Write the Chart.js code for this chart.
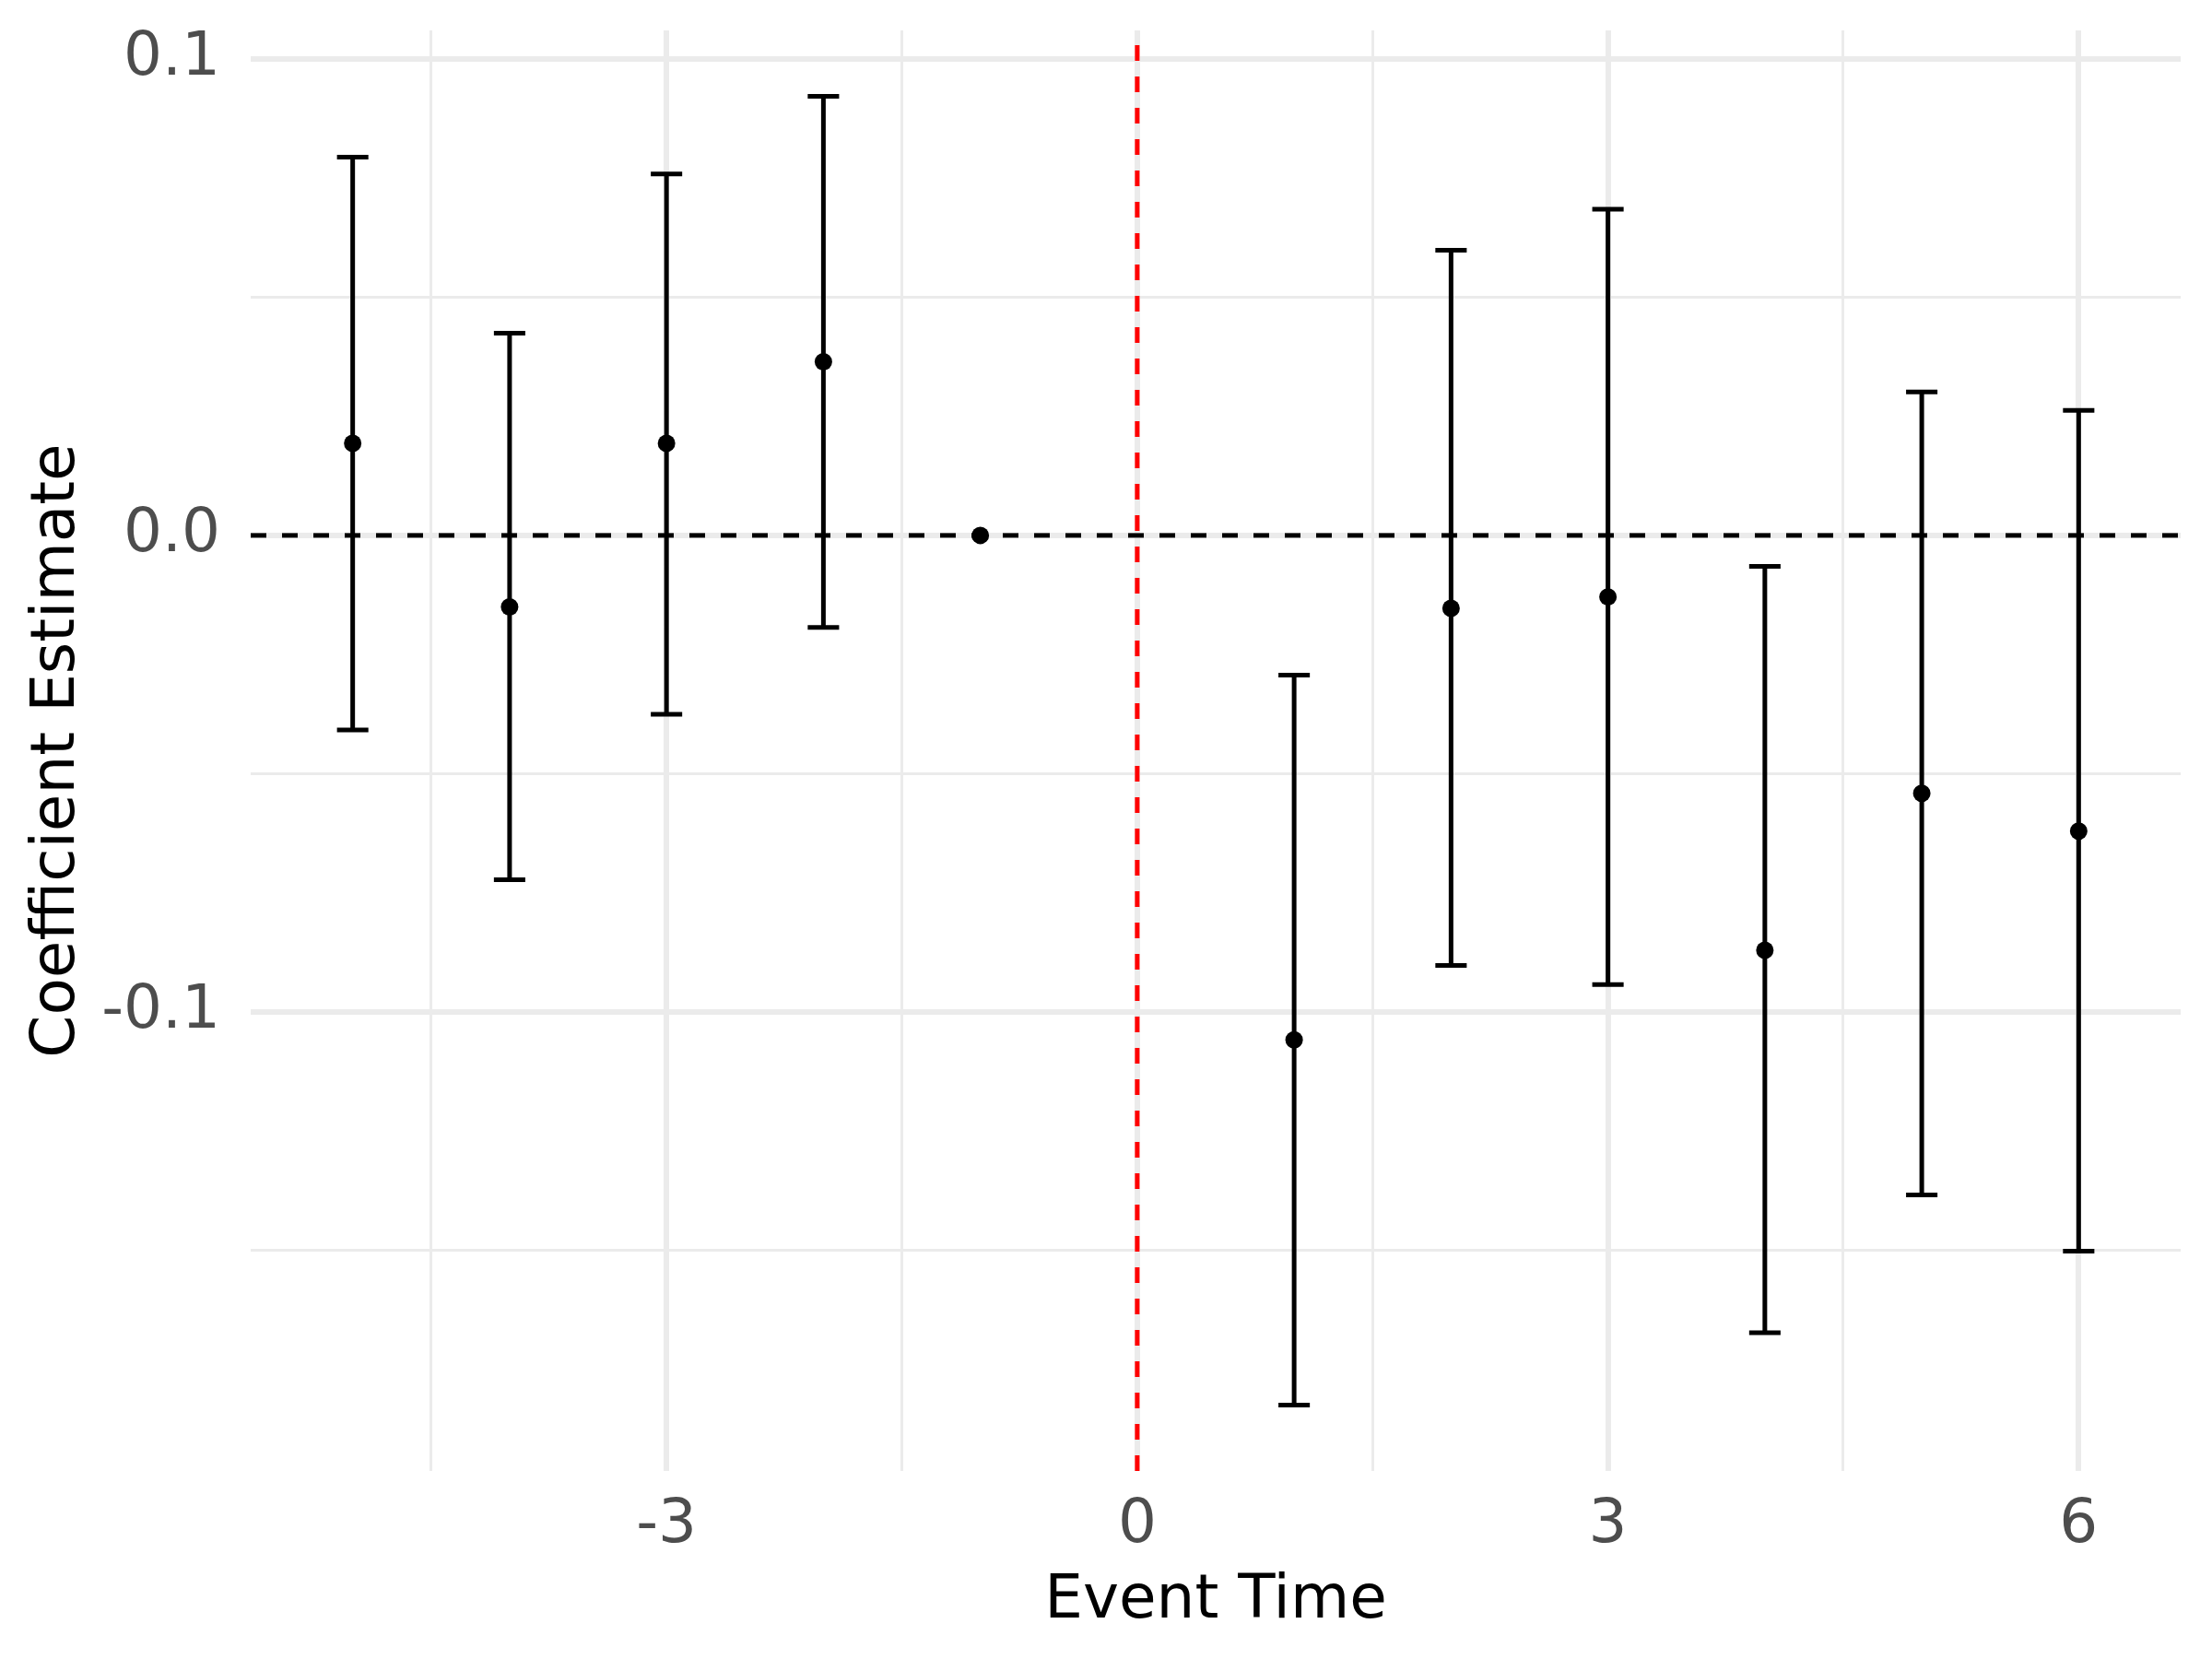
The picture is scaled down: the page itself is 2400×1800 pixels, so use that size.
<!DOCTYPE html>
<html>
<head>
<meta charset="utf-8">
<script src="https://cdn.jsdelivr.net/npm/chart.js@4/dist/chart.umd.min.js"></script>
<style>
  body { margin: 0; background: #fff; }
  #wrap { width: 2400px; height: 1800px; position: relative; }
</style>
</head>
<body>
<div id="wrap"><canvas id="eventChart"></canvas></div>
<script>
// event study coefficients
var eventTime = [-5, -4, -3, -2, -1, 1, 2, 3, 4, 5, 6];
var estimate  = [0.0193, -0.0150, 0.0193, 0.0364, 0, -0.1058, -0.0153, -0.0129, -0.0870, -0.0541, -0.0620];
var lower     = [-0.0408, -0.0722, -0.0375, -0.0193, null, -0.1824, -0.0902, -0.0942, -0.1672, -0.1383, -0.1501];
var upper     = [0.0793, 0.0424, 0.0758, 0.0921, null, -0.0293, 0.0598, 0.0684, -0.0065, 0.0301, 0.0262];

var xGrid = [-4.5, -3, -1.5, 0, 1.5, 3, 4.5, 6];
var xTickLabels = ["-3", "0", "3", "6"];
var yGrid = [-0.15, -0.1, -0.05, 0, 0.05, 0.1];
var yTickLabels = ["-0.1", "0.0", "0.1"];

var xMin = -5.65, xMax = 6.65;
var yMin = -0.1962, yMax = 0.1059;
var capHalf = 0.1;

var points = eventTime.map(function (t, i) { return { x: t, y: estimate[i] }; });

var barSegs = [];
var capSegs = [];
eventTime.forEach(function (t, i) {
  if (lower[i] === null) return;
  barSegs.push({ x: t, y: lower[i] }, { x: t, y: upper[i] }, { x: t, y: null });
  capSegs.push({ x: t - capHalf, y: upper[i] }, { x: t + capHalf, y: upper[i] }, { x: t, y: null });
  capSegs.push({ x: t - capHalf, y: lower[i] }, { x: t + capHalf, y: lower[i] }, { x: t, y: null });
});

function fmtX(v) { return String(Math.round(v)); }
function fmtY(v) { var r = Math.round(v * 10) / 10; return (r === 0 ? 0 : r).toFixed(1); }
function isMajorX(v) { return Math.abs(v - Math.round(v)) < 1e-6 && xTickLabels.indexOf(fmtX(v)) >= 0; }
function isMajorY(v) { return Math.abs(v * 10 - Math.round(v * 10)) < 1e-6 && yTickLabels.indexOf(fmtY(v)) >= 0; }

// keep the plot box where ggplot put it: no extra padding for edge labels
function noPad(scale) {
  scale.paddingTop = 0;
  scale.paddingBottom = 0;
  scale.paddingLeft = 0;
  scale.paddingRight = 0;
}

var fontFamily = "'DejaVu Sans', sans-serif";

var ctx = document.getElementById("eventChart").getContext("2d");
var eventChart = new Chart(ctx, {
  type: "scatter",
  data: {
    datasets: [
      {
        type: "scatter",
        data: points,
        pointRadius: 9.5,
        pointHoverRadius: 9.5,
        pointBackgroundColor: "#000",
        pointBorderWidth: 0,
        order: 0
      },
      {
        type: "line",
        data: barSegs,
        borderColor: "#000",
        borderWidth: 5,
        pointRadius: 0,
        spanGaps: false,
        order: 1
      },
      {
        type: "line",
        data: capSegs,
        borderColor: "#000",
        borderWidth: 5,
        pointRadius: 0,
        spanGaps: false,
        order: 1
      },
      {
        type: "line",
        data: [{ x: xMin, y: 0 }, { x: xMax, y: 0 }],
        borderColor: "#000",
        borderWidth: 5,
        borderDash: [17, 17],
        pointRadius: 0,
        order: 2
      },
      {
        type: "line",
        data: [{ x: 0, y: yMin }, { x: 0, y: yMax }],
        borderColor: "#FF0000",
        borderWidth: 5,
        borderDash: [17, 17],
        pointRadius: 0,
        order: 3
      }
    ]
  },
  options: {
    responsive: true,
    maintainAspectRatio: false,
    devicePixelRatio: 1,
    animation: false,
    layout: { padding: { left: 0, top: 33, right: 34, bottom: 0 } },
    plugins: { legend: { display: false }, tooltip: { enabled: false } },
    scales: {
      x: {
        type: "linear",
        position: "bottom",
        min: xMin,
        max: xMax,
        afterBuildTicks: function (scale) {
          scale.ticks = xGrid.map(function (v) { return { value: v }; });
        },
        afterFit: function (scale) { scale.height = 204; noPad(scale); },
        border: { display: false },
        grid: {
          drawTicks: false,
          color: "#EBEBEB",
          lineWidth: function (c) { return isMajorX(c.tick.value) ? 6 : 3; }
        },
        ticks: {
          autoSkip: false,
          maxRotation: 0,
          padding: 27,
          color: "#4D4D4D",
          font: { family: fontFamily, size: 66, lineHeight: 1 },
          callback: function (v) { return isMajorX(v) ? fmtX(v) : ""; }
        },
        title: {
          display: true,
          text: "Event Time",
          color: "#000",
          font: { family: fontFamily, size: 66, lineHeight: 1 },
          padding: { top: 0, bottom: 29 }
        }
      },
      y: {
        type: "linear",
        min: yMin,
        max: yMax,
        afterBuildTicks: function (scale) {
          scale.ticks = yGrid.map(function (v) { return { value: v }; });
        },
        afterFit: function (scale) { scale.width = 272; noPad(scale); },
        border: { display: false },
        grid: {
          drawTicks: false,
          color: "#EBEBEB",
          lineWidth: function (c) { return isMajorY(c.tick.value) ? 6 : 3; }
        },
        ticks: {
          autoSkip: false,
          padding: 33,
          color: "#4D4D4D",
          font: { family: fontFamily, size: 66, lineHeight: 1 },
          callback: function (v) { return isMajorY(v) ? fmtY(v) : ""; }
        },
        title: {
          display: true,
          text: "Coefficient Estimate",
          color: "#000",
          font: { family: fontFamily, size: 66, lineHeight: 1 },
          padding: { top: 30, bottom: 0 }
        }
      }
    }
  }
});
</script>
</body>
</html>
